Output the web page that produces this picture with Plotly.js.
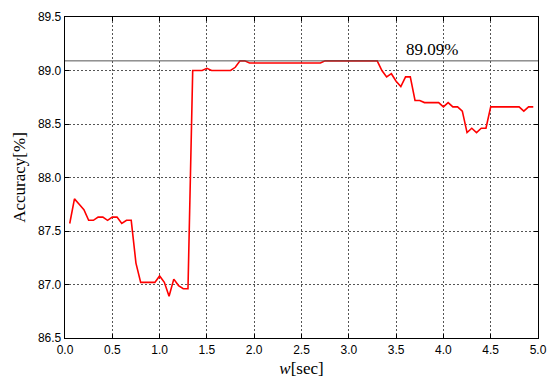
<!DOCTYPE html>
<html>
<head>
<meta charset="utf-8">
<script src="https://cdn.plot.ly/plotly-3.0.1.min.js"></script>
<style>html,body{margin:0;padding:0;background:#fff;}#chart{width:550px;height:381px;}</style>
</head>
<body>
<div id="chart"></div>
<script>
var windowSec = [0.05,0.10,0.15,0.20,0.25,0.30,0.35,0.40,0.45,0.50,
                 0.55,0.60,0.65,0.70,0.75,0.80,0.85,0.90,0.95,1.00,
                 1.05,1.10,1.15,1.20,1.25,1.30,1.35,1.40,1.45,1.50,
                 1.55,1.60,1.65,1.70,1.75,1.80,1.85,1.90,1.95,2.00,
                 2.05,2.10,2.15,2.20,2.25,2.30,2.35,2.40,2.45,2.50,
                 2.55,2.60,2.65,2.70,2.75,2.80,2.85,2.90,2.95,3.00,
                 3.05,3.10,3.15,3.20,3.25,3.30,3.35,3.40,3.45,3.50,
                 3.55,3.60,3.65,3.70,3.75,3.80,3.85,3.90,3.95,4.00,
                 4.05,4.10,4.15,4.20,4.25,4.30,4.35,4.40,4.45,4.50,
                 4.55,4.60,4.65,4.70,4.75,4.80,4.85,4.90,4.95];
var accuracy = [87.57,87.80,87.75,87.70,87.60,87.60,87.63,87.63,87.60,87.63,
                87.63,87.57,87.60,87.60,87.20,87.02,87.02,87.02,87.02,87.08,
                87.02,86.89,87.05,86.99,86.96,86.96,89.00,89.00,89.00,89.02,
                89.00,89.00,89.00,89.00,89.00,89.03,89.09,89.09,89.07,89.07,
                89.07,89.07,89.07,89.07,89.07,89.07,89.07,89.07,89.07,89.07,
                89.07,89.07,89.07,89.07,89.09,89.09,89.09,89.09,89.09,89.09,
                89.09,89.09,89.09,89.09,89.09,89.09,89.00,88.94,88.97,88.90,
                88.85,88.94,88.94,88.72,88.72,88.70,88.70,88.70,88.70,88.66,
                88.70,88.66,88.66,88.62,88.42,88.46,88.42,88.46,88.46,88.66,
                88.66,88.66,88.66,88.66,88.66,88.66,88.62,88.66,88.66];
var bestAccuracy = 89.09;
var bestLabel = "89.09%";
var xTicks = [0,0.5,1,1.5,2,2.5,3,3.5,4,4.5,5];
var xTickText = ["0.0","0.5","1.0","1.5","2.0","2.5","3.0","3.5","4.0","4.5","5.0"];
var yTicks = [86.5,87,87.5,88,88.5,89,89.5];
var yTickText = ["86.5","87.0","87.5","88.0","88.5","89.0","89.5"];

var serif = "'Liberation Serif', 'DejaVu Serif', serif";
var sans = "'Liberation Sans', Arial, sans-serif";

var data = [{
  x: windowSec, y: accuracy, type: "scatter", mode: "lines",
  line: {color: "#ff0000", width: 1.6}, hoverinfo: "skip"
}];

var axisCommon = {
  showline: true, linecolor: "#000", linewidth: 1.3, mirror: "ticks",
  ticks: "inside", ticklen: 4, tickcolor: "#000", tickwidth: 1,
  showgrid: true, gridcolor: "#555", griddash: "2px,2px", gridwidth: 1,
  zeroline: false, tickfont: {family: sans, size: 12, color: "#000"}
};

var layout = {
  width: 550, height: 381,
  margin: {l: 65, r: 12, t: 17, b: 43},
  paper_bgcolor: "#fff", plot_bgcolor: "#fff",
  showlegend: false,
  xaxis: Object.assign({}, axisCommon, {
    range: [0, 5], tickvals: xTicks, ticktext: xTickText,
    title: {text: "<i>w</i>[sec]", font: {family: serif, size: 17, color: "#000"}, standoff: 6}
  }),
  yaxis: Object.assign({}, axisCommon, {
    range: [86.5, 89.5], tickvals: yTicks, ticktext: yTickText,
    title: {text: "Accuracy[%]", font: {family: serif, size: 17, color: "#000"}, standoff: 8}
  }),
  shapes: [{
    type: "line", xref: "paper", x0: 0, x1: 1, yref: "y", y0: bestAccuracy, y1: bestAccuracy,
    line: {color: "#555", width: 1}
  }],
  annotations: [{
    x: 3.88, y: 89.2, xref: "x", yref: "y", text: bestLabel, showarrow: false,
    font: {family: serif, size: 17, color: "#000"}
  }]
};

Plotly.newPlot("chart", data, layout, {displayModeBar: false, staticPlot: true});
</script>
</body>
</html>
